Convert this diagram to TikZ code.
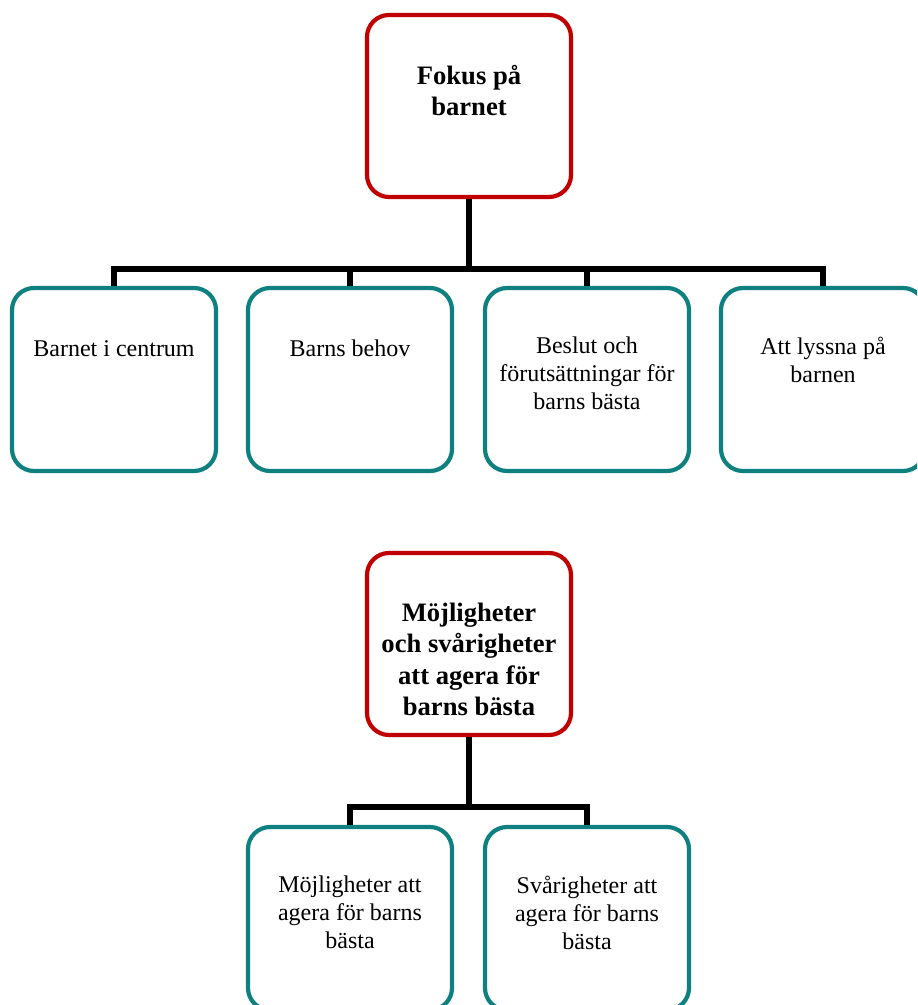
\documentclass[tikz,border=0pt]{standalone}
\usepackage{fontspec}
\setmainfont{Liberation Serif}
\usepackage{tikz}
\usetikzlibrary{positioning,calc}
\definecolor{fokusred}{HTML}{C00000}
\definecolor{kidteal}{HTML}{0E8080}

\tikzset{
  headbox/.style={draw=fokusred, line width=2.1pt, rounded corners=11pt,
    minimum width=102pt, minimum height=91pt, inner sep=0pt, fill=white},
  kidbox/.style={draw=kidteal, line width=2.1pt, rounded corners=11pt,
    minimum width=102pt, minimum height=91.5pt, inner sep=0pt, fill=white},
  headtext/.style={anchor=north, align=center, inner sep=0pt, yshift=-26pt,
    font=\fontsize{13.3}{15.6}\selectfont\bfseries, execute at begin node=\strut},
  kidtext/.style={anchor=north, align=center, inner sep=0pt, yshift=-25.5pt,
    font=\fontsize{12}{14}\selectfont, execute at begin node=\strut},
  link/.style={line width=3pt, black}
}

\begin{document}
\begin{tikzpicture}[x=0.5pt,y=-0.5pt]
  \useasboundingbox (0,0) rectangle (917,1005);
  \clip (0,0) rectangle (917,1005);

  % upper tree
  \node[headbox] (fokus) at (469,106) {};
  \node[headtext] (fokusT) at (fokus.north) {Fokus på\\barnet};
  \coordinate (j1) at (469,269);

  \node[kidbox] (centrum) at (114,379.5) {};
  \node[kidbox] (behov) at (350,379.5) {};
  \node[kidbox] (beslut) at (587,379.5) {};
  \node[kidbox] (lyssna) at (823,379.5) {};
  \node[kidtext] (centrumT) at (centrum.north) {Barnet i centrum};
  \node[kidtext] (behovT) at (behov.north) {Barns behov};
  \node[kidtext] (beslutT) at (beslut.north) {Beslut och\\förutsättningar för\\barns bästa};
  \node[kidtext] (lyssnaT) at (lyssna.north) {Att lyssna på\\barnen};

  \draw[link] (fokus.south) -- (j1);
  \draw[link] (centrum.north) |- (j1) -| (lyssna.north);
  \draw[link] (behov.north) -- (behov.north |- j1);
  \draw[link] (beslut.north) -- (beslut.north |- j1);

  % lower tree
  \node[headbox] (agera) at (469,644) {};
  \node[headtext] (ageraT) at (agera.north) {Möjligheter\\och svårigheter\\att agera för\\barns bästa};
  \coordinate (j2) at (469,807);

  \node[kidbox] (mojlig) at (350,918.5) {};
  \node[kidbox] (svarig) at (587,918.5) {};
  \node[kidtext] (mojligT) at (mojlig.north) {Möjligheter att\\agera för barns\\bästa};
  \node[kidtext] (svarigT) at (svarig.north) {Svårigheter att\\agera för barns\\bästa};

  \draw[link] (agera.south) -- (j2);
  \draw[link] (mojlig.north) |- (j2) -| (svarig.north);
\end{tikzpicture}
\end{document}
